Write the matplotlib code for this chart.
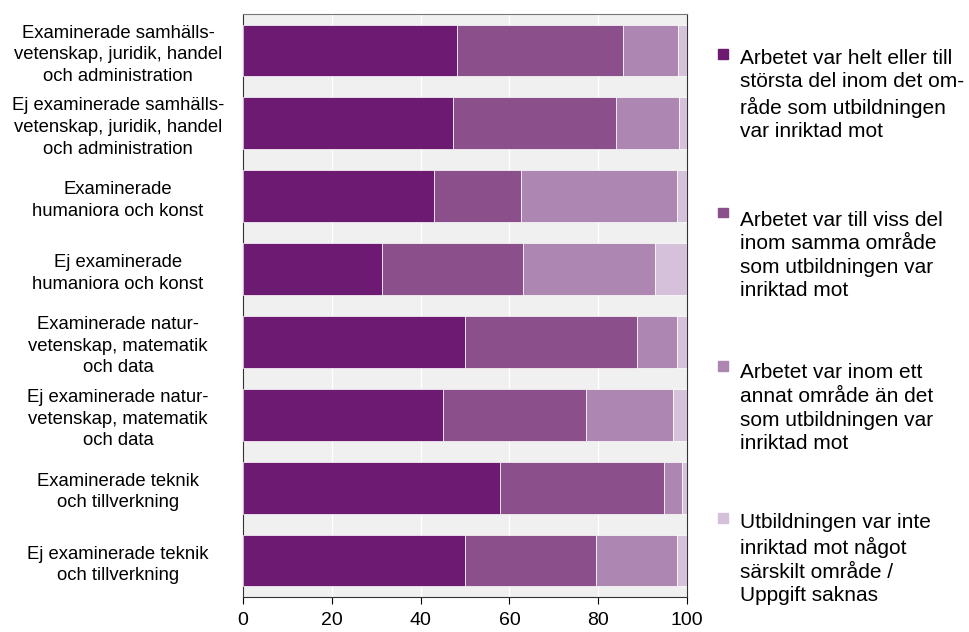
import matplotlib.pyplot as plt
from matplotlib.patches import Rectangle
import numpy as np

plt.rcParams['font.family'] = ['Liberation Sans', 'DejaVu Sans']

categories = [
    'Examinerade samhälls-\nvetenskap, juridik, handel\noch administration',
    'Ej examinerade samhälls-\nvetenskap, juridik, handel\noch administration',
    'Examinerade\nhumaniora och konst',
    'Ej examinerade\nhumaniora och konst',
    'Examinerade natur-\nvetenskap, matematik\noch data',
    'Ej examinerade natur-\nvetenskap, matematik\noch data',
    'Examinerade teknik\noch tillverkning',
    'Ej examinerade teknik\noch tillverkning',
]

helt = [48.3, 47.3, 43.0, 31.4, 49.9, 45.1, 57.9, 50.0]
viss = [37.3, 36.8, 19.7, 31.7, 38.9, 32.1, 36.9, 29.6]
annat = [12.4, 14.2, 35.0, 29.8, 9.0, 19.7, 4.1, 18.2]
ej_inriktad = [2.0, 1.7, 2.3, 7.1, 2.2, 3.1, 1.1, 2.2]

series_labels = [
    'Arbetet var helt eller till\nstörsta del inom det om-\nråde som utbildningen\nvar inriktad mot',
    'Arbetet var till viss del\ninom samma område\nsom utbildningen var\ninriktad mot',
    'Arbetet var inom ett\nannat område än det\nsom utbildningen var\ninriktad mot',
    'Utbildningen var inte\ninriktad mot något\nsärskilt område /\nUppgift saknas',
]
colors = ['#6d1a73', '#8b4f8b', '#ad87b2', '#d5c1da']

fig = plt.figure(figsize=(9.7, 6.32), dpi=100)
ax = fig.add_axes([243 / 970, 1 - 597 / 632, 444 / 970, 583 / 632])
ax.set_facecolor('#f0f0f0')

y = np.arange(len(categories))
left = np.zeros(len(categories))
for vals, col, lab in zip([helt, viss, annat, ej_inriktad], colors, series_labels):
    ax.barh(y, vals, left=left, height=0.71, color=col, edgecolor='white',
            linewidth=0.5, label=lab, zorder=3)
    left += np.array(vals)

ax.set_xlim(0, 100)
ax.set_ylim(len(categories) - 0.5, -0.5)
ax.set_xticks([0, 20, 40, 60, 80, 100])
ax.tick_params(axis='x', labelsize=14, length=5, direction='out', pad=6)
ax.set_yticks(y)
ax.set_yticklabels(categories, fontsize=13.3, multialignment='center',
                   linespacing=1.36)
ax.tick_params(axis='y', length=0, pad=18)
for lbl in ax.get_yticklabels():
    lbl.set_horizontalalignment('center')
    lbl.set_x(-0.225)

ax.grid(axis='x', color='white', linewidth=1, zorder=1)
ax.spines['top'].set_color('#777777')
for s in ['left', 'right', 'bottom']:
    ax.spines[s].set_color('#333333')

# legend drawn by hand so the squares sit next to the first line
first_baselines = [62, 221, 374, 526]
line_step = 25
for lab, col, b in zip(series_labels, colors, first_baselines):
    last = b + line_step * (lab.count('\n'))
    fig.text(740 / 970, 1 - last / 632, lab, fontsize=15, va='baseline',
             ha='left', linespacing=1.3)
    fig.patches.append(Rectangle((718 / 970, 1 - (b - 3.5) / 632), 9.5 / 970, 9.5 / 632,
                                 transform=fig.transFigure, color=col))

fig.savefig('out.png', dpi=100)
